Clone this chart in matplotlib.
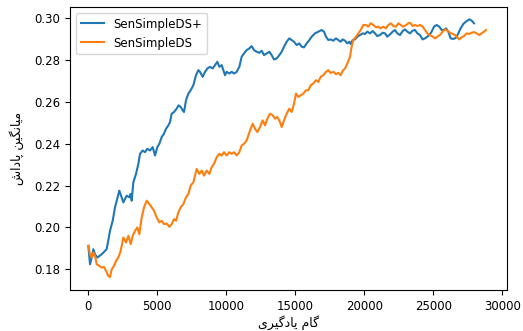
import matplotlib
matplotlib.use("Agg")
import matplotlib.pyplot as plt

# SenSimpleDS+ (blue)
blue_x = [0, 121, 242, 362, 483, 652, 966, 1329, 1570, 1763, 1932, 2246, 2416, 2536, 2778, 2971, 3068, 3140,
          3261, 3454, 3623, 3744, 3937, 4106, 4275, 4469, 4662, 4831, 5000, 5145, 5314, 5483, 5628, 5797, 5918,
          6039, 6208, 6401, 6546, 6691, 6836, 6932, 7077, 7247, 7416, 7609, 7802, 7971, 8092, 8285, 8454, 8623,
          8817, 9010, 9179, 9348, 9493, 9662, 9783, 9904, 10024, 10218, 10387, 10556, 10749, 10942, 11111, 11280,
          11474, 11667, 11836, 12005, 12198, 12392, 12561, 12730, 12923, 13116, 13285, 13454, 13648, 13841, 14010,
          14179, 14372, 14565, 14735, 14904, 15097, 15290, 15459, 15628, 15822, 16015, 16184, 16425, 16667, 16909,
          17078, 17223, 17392, 17561, 17754, 17947, 18116, 18285, 18430, 18599, 18768, 18913, 19010, 19155, 19324,
          19493, 19686, 19880, 20049, 20218, 20411, 20604, 20773, 20942, 21136, 21329, 21498, 21667, 21860, 22054,
          22223, 22392, 22585, 22778, 22947, 23116, 23310, 23503, 23672, 23841, 24034, 24227, 24397, 24566, 24711,
          24880, 25049, 25242, 25435, 25604, 25773, 25918, 26087, 26256, 26450, 26643, 26812, 26981, 27174, 27368,
          27609, 27778, 27947]
blue_y = [0.1912, 0.1824, 0.1856, 0.1896, 0.1872, 0.1856, 0.1872, 0.1896, 0.1984, 0.2032, 0.2096, 0.2176, 0.2144,
          0.2120, 0.2152, 0.2144, 0.2160, 0.2128, 0.2216, 0.2256, 0.2304, 0.2352, 0.2368, 0.2360, 0.2376, 0.2368,
          0.2384, 0.2344, 0.2384, 0.2400, 0.2432, 0.2448, 0.2472, 0.2488, 0.2504, 0.2544, 0.2552, 0.2568, 0.2584,
          0.2576, 0.2560, 0.2552, 0.2608, 0.2640, 0.2656, 0.2680, 0.2728, 0.2752, 0.2744, 0.2720, 0.2744, 0.2760,
          0.2768, 0.2760, 0.2776, 0.2792, 0.2768, 0.2776, 0.2752, 0.2728, 0.2744, 0.2736, 0.2744, 0.2736, 0.2744,
          0.2768, 0.2816, 0.2832, 0.2848, 0.2856, 0.2867, 0.2848, 0.2840, 0.2835, 0.2845, 0.2824, 0.2832, 0.2840,
          0.2824, 0.2803, 0.2808, 0.2824, 0.2840, 0.2864, 0.2888, 0.2904, 0.2896, 0.2888, 0.2872, 0.2880, 0.2864,
          0.2861, 0.2880, 0.2896, 0.2912, 0.2928, 0.2936, 0.2944, 0.2936, 0.2912, 0.2896, 0.2899, 0.2893, 0.2904,
          0.2896, 0.2888, 0.2899, 0.2893, 0.2880, 0.2888, 0.2877, 0.2896, 0.2899, 0.2912, 0.2920, 0.2928, 0.2925,
          0.2936, 0.2928, 0.2939, 0.2928, 0.2915, 0.2920, 0.2931, 0.2928, 0.2912, 0.2923, 0.2936, 0.2944, 0.2928,
          0.2920, 0.2939, 0.2947, 0.2936, 0.2928, 0.2941, 0.2944, 0.2928, 0.2920, 0.2899, 0.2904, 0.2912, 0.2920,
          0.2936, 0.2960, 0.2968, 0.2960, 0.2944, 0.2944, 0.2952, 0.2936, 0.2904, 0.2901, 0.2907, 0.2928, 0.2952,
          0.2973, 0.2984, 0.2995, 0.2989, 0.2976]

# SenSimpleDS (orange)
orange_x = [0, 121, 242, 362, 483, 604, 797, 966, 1135, 1280, 1449, 1570, 1691, 1860, 2005, 2174, 2343, 2536, 2730,
            2899, 3068, 3213, 3382, 3551, 3696, 3865, 4034, 4227, 4420, 4589, 4759, 4952, 5145, 5314, 5483, 5676,
            5870, 6039, 6208, 6353, 6522, 6691, 6884, 7077, 7247, 7416, 7609, 7730, 7850, 8044, 8213, 8382, 8575,
            8768, 8937, 9106, 9300, 9493, 9662, 9831, 10024, 10218, 10387, 10556, 10749, 10942, 11111, 11280, 11474,
            11594, 11763, 11908, 12078, 12247, 12440, 12633, 12802, 12971, 13164, 13358, 13527, 13696, 13889, 14010,
            14179, 14372, 14565, 14735, 14904, 15049, 15218, 15387, 15580, 15773, 15942, 16111, 16305, 16498, 16667,
            16836, 17029, 17223, 17392, 17561, 17754, 17947, 18116, 18285, 18430, 18599, 18768, 18962, 19082, 19203,
            19396, 19566, 19735, 19928, 20121, 20290, 20459, 20653, 20846, 21015, 21184, 21377, 21570, 21740, 21909,
            22102, 22295, 22464, 22633, 22826, 23020, 23189, 23310, 23503, 23672, 23841, 24034, 24227, 24397, 24566,
            24759, 24952, 25121, 25290, 25483, 25677, 25846, 26015, 26208, 26401, 26570, 26739, 26885, 27054, 27223,
            27416, 27609, 27778, 27947, 28140, 28333, 28502, 28672, 28817]
orange_y = [0.1912, 0.1872, 0.1856, 0.1880, 0.1864, 0.1824, 0.1816, 0.1808, 0.1811, 0.1792, 0.1768, 0.1763,
            0.1800, 0.1816, 0.1840, 0.1856, 0.1888, 0.1952, 0.1928, 0.1960, 0.1920, 0.1960, 0.1984, 0.2000, 0.1968,
            0.2048, 0.2096, 0.2128, 0.2112, 0.2096, 0.2080, 0.2048, 0.2024, 0.2032, 0.2016, 0.2019, 0.2003, 0.2016,
            0.2040, 0.2032, 0.2072, 0.2096, 0.2112, 0.2144, 0.2160, 0.2200, 0.2216, 0.2248, 0.2280, 0.2256, 0.2272,
            0.2248, 0.2272, 0.2256, 0.2288, 0.2304, 0.2336, 0.2352, 0.2344, 0.2360, 0.2344, 0.2360, 0.2352, 0.2360,
            0.2344, 0.2360, 0.2392, 0.2400, 0.2416, 0.2440, 0.2472, 0.2496, 0.2472, 0.2456, 0.2480, 0.2512, 0.2488,
            0.2520, 0.2544, 0.2536, 0.2520, 0.2528, 0.2504, 0.2480, 0.2512, 0.2544, 0.2568, 0.2552, 0.2592, 0.2640,
            0.2624, 0.2632, 0.2640, 0.2656, 0.2656, 0.2680, 0.2688, 0.2704, 0.2696, 0.2720, 0.2728, 0.2744, 0.2752,
            0.2739, 0.2744, 0.2733, 0.2739, 0.2728, 0.2749, 0.2760, 0.2784, 0.2816, 0.2864, 0.2896, 0.2912, 0.2928,
            0.2944, 0.2968, 0.2968, 0.2960, 0.2976, 0.2968, 0.2957, 0.2960, 0.2952, 0.2960, 0.2952, 0.2968, 0.2976,
            0.2963, 0.2960, 0.2976, 0.2968, 0.2960, 0.2968, 0.2976, 0.2979, 0.2963, 0.2968, 0.2963, 0.2968, 0.2960,
            0.2944, 0.2928, 0.2920, 0.2912, 0.2904, 0.2912, 0.2920, 0.2936, 0.2947, 0.2941, 0.2931, 0.2925, 0.2920,
            0.2909, 0.2899, 0.2909, 0.2915, 0.2928, 0.2925, 0.2931, 0.2934, 0.2928, 0.2920, 0.2928, 0.2936, 0.2944]

series_labels = ["SenSimpleDS+", "SenSimpleDS"]
x_ticks = [0, 5000, 10000, 15000, 20000, 25000, 30000]
y_ticks = [0.18, 0.20, 0.22, 0.24, 0.26, 0.28, 0.30]

# "گام یادگیری" and "میانگین پاداش" as shaped glyphs in visual (left-to-right) order
xlabel_text = "\uFBFC\uFEAE\uFBFF\uFB94\uFEA9\uFE8E\uFBFE \uFEE1\uFE8E\uFB94"
ylabel_text = "\uFEB5\uFE8D\uFEA9\uFE8E\uFB58 \uFEE6\uFBFF\uFB95\uFEE7\uFE8E\uFBFF\uFEE3"

plt.rcParams['font.family'] = ['DejaVu Sans']
fs = 8.5

fig = plt.figure(figsize=(5.23, 3.31), dpi=100)
ax = fig.add_axes([70 / 523, 1 - 290 / 331, 437 / 523, 283 / 331])

ax.plot(blue_x, blue_y, color="#1f77b4", lw=1.5, label=series_labels[0])
ax.plot(orange_x, orange_y, color="#ff7f0e", lw=1.5, label=series_labels[1])

ax.set_xlim(-1330, 30340)
ax.set_ylim(0.1701, 0.3054)
ax.set_xticks(x_ticks)
ax.set_yticks(y_ticks)
ax.tick_params(labelsize=fs)

ax.set_xlabel(xlabel_text, fontsize=9, labelpad=2)
ax.set_ylabel(ylabel_text, fontsize=9, labelpad=7)

ax.legend(loc="upper left", fontsize=fs)

fig.savefig("out.png", dpi=100)
